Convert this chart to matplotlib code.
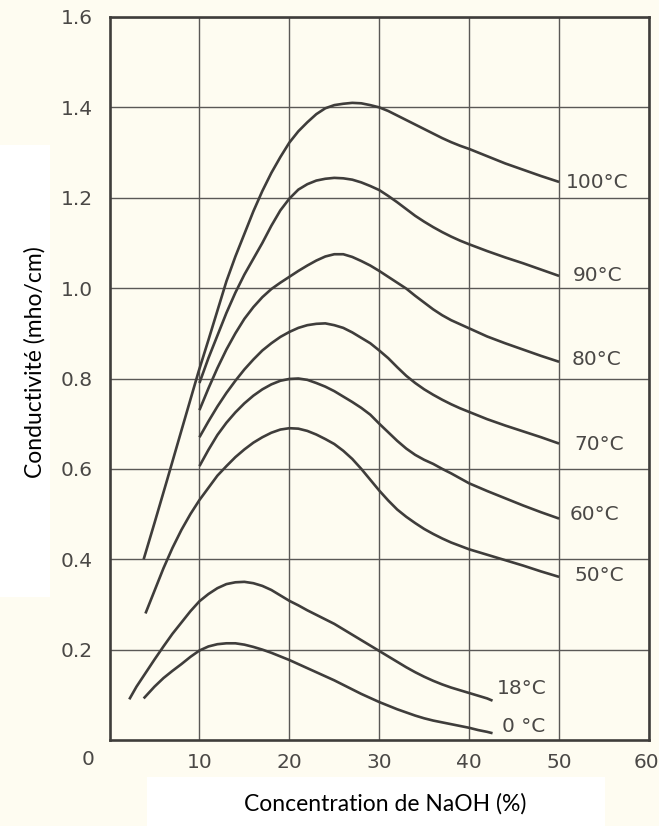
import matplotlib
matplotlib.use("Agg")
import matplotlib.pyplot as plt
from matplotlib.patches import Rectangle

# ---- data ----
x_100 = [3.8, 5, 6.4, 8, 9.9, 11, 12, 13, 14, 15, 16, 17, 18, 19, 20, 21, 22, 23, 24, 25, 26, 27, 28, 29, 30,
         31, 32, 33, 34, 35, 36, 37, 38, 39, 40, 42, 44, 46, 48, 50]
y_100 = [0.40, 0.48, 0.575, 0.685, 0.815, 0.885, 0.95, 1.015, 1.07, 1.12, 1.17, 1.215, 1.255, 1.29, 1.322,
         1.347, 1.367, 1.385, 1.398, 1.405, 1.408, 1.41, 1.409, 1.405, 1.40,
         1.392, 1.382, 1.372, 1.362, 1.352, 1.342, 1.332, 1.323, 1.315, 1.308, 1.292, 1.276, 1.262, 1.248, 1.235]

x_90 = [10, 11, 12, 13, 14, 15, 16, 17, 18, 19, 20, 21, 22, 23, 24, 25, 26, 27, 28, 29, 30,
        31, 32, 33, 34, 35, 36, 37, 38, 39, 40, 42, 44, 46, 48, 50]
y_90 = [0.79, 0.845, 0.895, 0.945, 0.99, 1.03, 1.065, 1.10, 1.138, 1.172, 1.198, 1.218, 1.23, 1.238, 1.242,
        1.244, 1.243, 1.24, 1.234, 1.226, 1.217,
        1.204, 1.19, 1.175, 1.16, 1.147, 1.135, 1.124, 1.114, 1.105, 1.097, 1.082, 1.068, 1.055, 1.041, 1.027]

x_80 = [10, 11, 12, 13, 14, 15, 16, 17, 18, 19, 20, 21, 22, 23, 24, 25, 26, 27, 28, 29, 30,
        31, 32, 33, 34, 35, 36, 37, 38, 39, 40, 42, 44, 46, 48, 50]
y_80 = [0.73, 0.778, 0.823, 0.864, 0.90, 0.932, 0.958, 0.98, 0.998, 1.012, 1.025, 1.038, 1.05, 1.061, 1.07,
        1.075, 1.075, 1.069, 1.06, 1.05, 1.038,
        1.025, 1.012, 0.999, 0.983, 0.968, 0.953, 0.94, 0.929, 0.92, 0.911, 0.893, 0.878, 0.864, 0.85, 0.837]

x_70 = [10, 11, 12, 13, 14, 15, 16, 17, 18, 19, 20, 21, 22, 23, 24, 25, 26, 27, 28, 29, 30,
        31, 32, 33, 34, 35, 36, 37, 38, 39, 40, 42, 44, 46, 48, 50]
y_70 = [0.67, 0.705, 0.738, 0.768, 0.795, 0.82, 0.842, 0.862, 0.878, 0.892, 0.903, 0.912, 0.918, 0.921, 0.922,
        0.918, 0.912, 0.902, 0.89, 0.878, 0.862,
        0.845, 0.825, 0.806, 0.79, 0.776, 0.764, 0.753, 0.743, 0.734, 0.726, 0.71, 0.696, 0.683, 0.67, 0.656]

x_60 = [10, 11, 12, 13, 14, 15, 16, 17, 18, 19, 20, 21, 22, 23, 24, 25, 26, 27, 28, 29, 30,
        31, 32, 33, 34, 35, 36, 37, 38, 39, 40, 42, 44, 46, 48, 50]
y_60 = [0.606, 0.642, 0.675, 0.702, 0.725, 0.745, 0.762, 0.776, 0.787, 0.795, 0.799, 0.80, 0.797, 0.79, 0.782,
        0.772, 0.76, 0.748, 0.735, 0.72, 0.70,
        0.681, 0.662, 0.645, 0.631, 0.62, 0.611, 0.60, 0.59, 0.579, 0.568, 0.551, 0.535, 0.519, 0.504, 0.49]

x_50 = [4, 5, 6, 7, 8, 9, 10, 11, 12, 13, 14, 15, 16, 17, 18, 19, 20, 21, 22, 23, 24, 25, 26, 27, 28, 29, 30,
        31, 32, 33, 34, 35, 36, 37, 38, 40, 42, 44, 46, 48, 50]
y_50 = [0.28, 0.33, 0.38, 0.425, 0.465, 0.50, 0.531, 0.558, 0.585, 0.606, 0.626, 0.643, 0.658, 0.67, 0.68,
        0.687, 0.69, 0.689, 0.684, 0.676, 0.666, 0.655, 0.64, 0.622, 0.60, 0.576, 0.552,
        0.53, 0.51, 0.494, 0.48, 0.467, 0.456, 0.446, 0.437, 0.422, 0.41, 0.398, 0.386, 0.373, 0.361]

x_18 = [2.2, 3, 4, 5, 6, 7, 8, 9, 10, 11, 12, 13, 14, 15, 16, 17, 18, 19, 20, 21, 22, 23, 24, 25, 26, 27, 28,
        29, 30, 31, 32, 33, 34, 35, 36, 37, 38, 39, 40, 41, 42, 42.6]
y_18 = [0.09, 0.118, 0.148, 0.178, 0.207, 0.235, 0.26, 0.285, 0.307, 0.323, 0.336, 0.345, 0.349, 0.35, 0.347,
        0.341, 0.332, 0.32, 0.308, 0.298, 0.287, 0.277, 0.267, 0.257, 0.245, 0.233, 0.221,
        0.209, 0.197, 0.185, 0.173, 0.161, 0.15, 0.14, 0.131, 0.123, 0.116, 0.11, 0.104, 0.098, 0.092, 0.087]

x_0 = [3.8, 5, 6, 7, 8, 9, 10, 11, 12, 13, 14, 15, 16, 17, 18, 19, 20, 21, 22, 23, 24, 25, 26, 27, 28,
       29, 30, 31, 32, 33, 34, 35, 36, 37, 38, 39, 40, 41, 42, 42.6]
y_0 = [0.092, 0.118, 0.137, 0.153, 0.168, 0.184, 0.198, 0.207, 0.212, 0.214, 0.214, 0.211, 0.206, 0.20, 0.193,
       0.185, 0.177, 0.168, 0.159, 0.15, 0.141, 0.132, 0.122, 0.112, 0.102,
       0.093, 0.084, 0.076, 0.068, 0.061, 0.054, 0.048, 0.043, 0.039, 0.035, 0.031, 0.027, 0.022, 0.018, 0.015]

curve_labels = ["100°C", "90°C", "80°C", "70°C", "60°C", "50°C", "18°C", "0 °C"]
label_x = [50.7, 51.5, 51.4, 51.7, 51.2, 51.7, 43.05, 43.7]
label_y = [1.234, 1.029, 0.841, 0.653, 0.498, 0.363, 0.113, 0.029]

x_ticks = [10, 20, 30, 40, 50, 60]
x_ticklabels = ["10", "20", "30", "40", "50", "60"]
y_ticks = [0.2, 0.4, 0.6, 0.8, 1.0, 1.2, 1.4, 1.6]
y_ticklabels = ["0.2", "0.4", "0.6", "0.8", "1.0", "1.2", "1.4", "1.6"]

xlabel = "Concentration de NaOH (%)"
ylabel = "Conductivité (mho/cm)"

# ---- figure ----
W, H = 659, 826
cream = "#fefcf1"
ink = "#3f3d3b"
grey_text = "#4a4846"
fig = plt.figure(figsize=(W / 100, H / 100), dpi=100, facecolor=cream)

# white patches behind the axis titles
fig.patches.append(Rectangle((147 / W, 0), (605 - 147) / W, (826 - 777) / H,
                             transform=fig.transFigure, facecolor="white", edgecolor="none", zorder=0))
fig.patches.append(Rectangle((0, (826 - 597) / H), 50 / W, (597 - 145) / H,
                             transform=fig.transFigure, facecolor="white", edgecolor="none", zorder=0))

ax = fig.add_axes([109.5 / W, 86 / H, (649 - 109.5) / W, (809 - 86) / H])
ax.set_facecolor(cream)
ax.set_xlim(0, 60)
ax.set_ylim(0, 1.6)

ax.set_xticks(x_ticks)
ax.set_xticklabels(x_ticklabels)
ax.set_yticks(y_ticks)
ax.set_yticklabels(y_ticklabels)
ax.tick_params(length=0, labelsize=14.5, labelcolor=grey_text)
ax.tick_params(axis="x", pad=9)
ax.tick_params(axis="y", pad=12)
# keep the last x tick label inside the picture (as in the reference, it sits at the edge)
last = ax.get_xticklabels()[-1]
last.set_horizontalalignment("right")
last.set_x(60)
from matplotlib.transforms import ScaledTranslation
last.set_transform(last.get_transform() + ScaledTranslation(10 / 100, 0, fig.dpi_scale_trans))

ax.grid(True, color="#5a5856", linewidth=1.0)
ax.set_axisbelow(True)
for s in ax.spines.values():
    s.set_linewidth(1.9)
    s.set_color(ink)

series = [(x_100, y_100), (x_90, y_90), (x_80, y_80), (x_70, y_70),
          (x_60, y_60), (x_50, y_50), (x_18, y_18), (x_0, y_0)]
for xs, ys in series:
    ax.plot(xs, ys, color=ink, linewidth=1.9, solid_capstyle="butt", solid_joinstyle="round")

for t, lx, ly in zip(curve_labels, label_x, label_y):
    ax.text(lx, ly, t, ha="left", va="center", fontsize=14.5, color=grey_text)

# shared origin label
ax.text(-2.4, -0.044, "0", ha="center", va="center", fontsize=14.5, color=grey_text, clip_on=False)

fig.text(385 / W, 1 - 804 / H, xlabel, ha="center", va="center",
         fontsize=16.5, family="Lato", color="black")
fig.text(35 / W, 1 - 362 / H, ylabel, ha="center", va="center", rotation=90,
         fontsize=16.5, family="Lato", color="black")

fig.savefig("out.png", dpi=100, facecolor=cream)
